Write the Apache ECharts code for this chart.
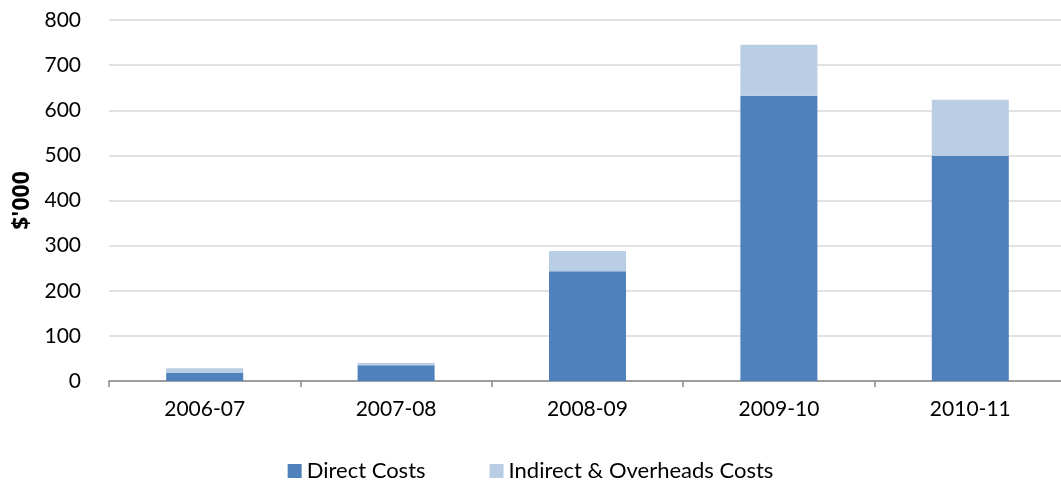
<!DOCTYPE html>
<html><head><meta charset="utf-8">
<script src="https://cdn.jsdelivr.net/npm/echarts@6/dist/echarts.min.js"></script>
<style>html,body{margin:0;padding:0;background:#fff}#c{width:1061px;height:483px}</style>
</head><body><div id="c"></div>
<script>
const categories = ['2006-07','2007-08','2008-09','2009-10','2010-11'];
const directCosts = [18, 35, 243, 632, 499];
const indirectCosts = [10, 5, 45, 113, 124];
const yTicks = {min: 0, max: 800, interval: 100};

const font = 'Lato, "Open Sans", sans-serif';
const chart = echarts.init(document.getElementById('c'));
chart.setOption({
  animation: false,
  grid: {left: 109, right: -5, top: 20, bottom: 102, containLabel: false, outerBoundsMode: 'none'},
  legend: {
    bottom: 1, left: 'center', padding: [0, 5, 0, 5],
    itemWidth: 14, itemHeight: 14, itemGap: 64, icon: 'rect',
    textStyle: {fontFamily: font, fontSize: 22, color: '#000'},
    data: ['Direct Costs', 'Indirect & Overheads Costs']
  },
  xAxis: {
    type: 'category', data: categories,
    axisLine: {lineStyle: {color: '#868686', width: 1.5}},
    axisTick: {show: true, length: 6, lineStyle: {color: '#868686', width: 1.5}},
    axisLabel: {fontFamily: font, fontSize: 21, color: '#000', margin: 18}
  },
  yAxis: {
    type: 'value', min: yTicks.min, max: yTicks.max, interval: yTicks.interval,
    name: "$'000", nameLocation: 'middle', nameGap: 75,
    nameTextStyle: {fontFamily: '"Open Sans", sans-serif', fontSize: 23, fontWeight: 'bold', color: '#000'},
    axisLine: {show: false}, axisTick: {show: false},
    axisLabel: {fontFamily: font, fontSize: 21, color: '#000', margin: 28},
    splitLine: {lineStyle: {color: '#d9d9d9', width: 1.5}}
  },
  series: [
    {name: 'Direct Costs', type: 'bar', stack: 't', data: directCosts, barWidth: 77,
     itemStyle: {color: '#4F81BD'}},
    {name: 'Indirect & Overheads Costs', type: 'bar', stack: 't', data: indirectCosts, barWidth: 77,
     itemStyle: {color: '#B9CDE5'}}
  ]
});
</script></body></html>
